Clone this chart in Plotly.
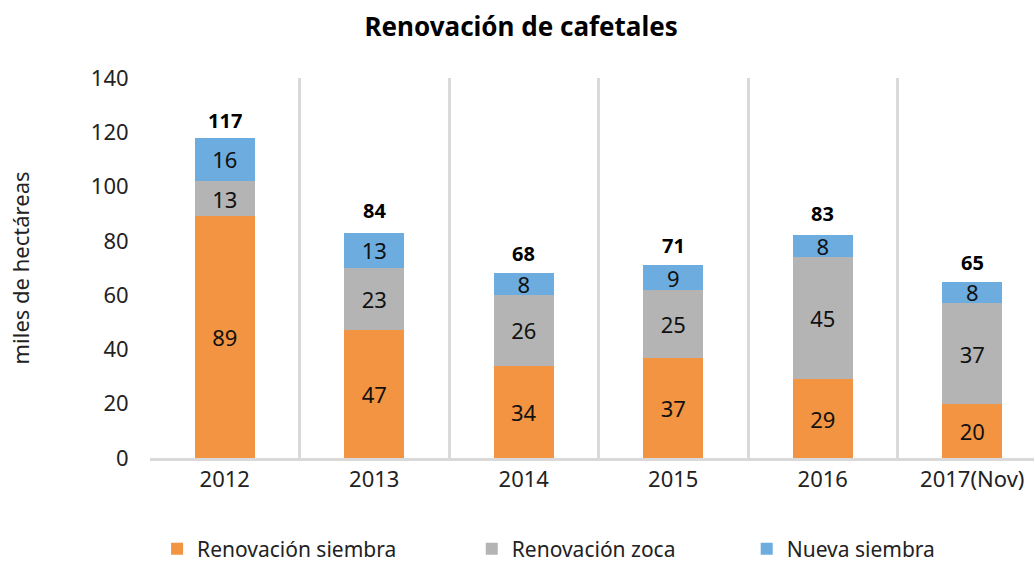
import plotly.graph_objects as go

years = ["2012", "2013", "2014", "2015", "2016", "2017(Nov)"]
renov_siembra = [89, 47, 34, 37, 29, 20]
renov_zoca = [13, 23, 26, 25, 45, 37]
nueva_siembra = [16, 13, 8, 9, 8, 8]
totals = [117, 84, 68, 71, 83, 65]

FONT = "Noto Sans"
fig = go.Figure()
series = [
    ("Renovación siembra", renov_siembra, "#F29441", "legend", 0.008),
    ("Renovación zoca", renov_zoca, "#B4B4B4", "legend2", 0.364),
    ("Nueva siembra", nueva_siembra, "#6CACDE", "legend3", 0.675),
]
legends = {}
for name, vals, col, lg, lx in series:
    fig.add_trace(go.Bar(
        x=years, y=vals, name=name, marker=dict(color=col, line=dict(width=0)),
        text=vals, textposition="inside", insidetextanchor="middle", textangle=0,
        textfont=dict(family=FONT, size=22, color="#111111"),
        constraintext="none", legend=lg, showlegend=True,
        width=0.4, cliponaxis=False,
    ))
    legends[lg] = dict(orientation="h", x=lx, xanchor="left", y=-0.24, yanchor="middle",
                       font=dict(family=FONT, size=21, color="#222222"),
                       bgcolor="rgba(0,0,0,0)")

for i, t in enumerate(totals):
    fig.add_annotation(x=i, y=t, text=f"<b>{t}</b>", showarrow=False,
                       yanchor="bottom", yshift=4,
                       font=dict(family=FONT, size=20, color="#000000"))

fig.update_layout(
    width=1034, height=570,
    barmode="stack", showlegend=True,
    plot_bgcolor="white", paper_bgcolor="white",
    margin=dict(l=150, r=0, t=78, b=109),
    font=dict(family=FONT, size=18, color="#222222"),
    title=dict(text="<b>Renovación de cafetales</b>", x=0.504, xanchor="center",
               y=1 - 27 / 570, yanchor="middle",
               font=dict(family=FONT, size=26, color="#000000")),
    uniformtext=dict(mode=False),
    **legends,
)
fig.update_xaxes(
    type="category", range=[-0.5, 5.413], showgrid=True, tickson="boundaries",
    gridcolor="#D9D9D9", gridwidth=3, showline=True, linecolor="#D9D9D9", linewidth=3,
    ticks="outside", ticklen=14, tickcolor="rgba(0,0,0,0)",
    tickfont=dict(family=FONT, size=22, color="#222222"), fixedrange=True,
)
fig.update_yaxes(
    range=[0, 140], dtick=20, showgrid=False, zeroline=False, showline=False,
    ticks="outside", ticklen=16, tickcolor="rgba(0,0,0,0)",
    tickfont=dict(family=FONT, size=22, color="#222222"),
    title=dict(text="miles de hectáreas", font=dict(family=FONT, size=22, color="#222222"), standoff=55),
    fixedrange=True,
)

fig.write_html("out.html", config={"displayModeBar": False},
               post_script="document.body.style.margin='0';")
